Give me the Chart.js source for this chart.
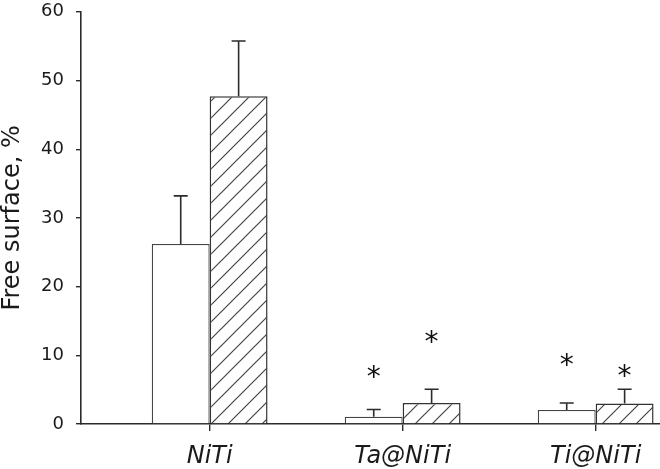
<!DOCTYPE html>
<html>
<head>
<meta charset="utf-8">
<script src="https://cdn.jsdelivr.net/npm/chart.js@4.4.1/dist/chart.umd.min.js"></script>
<style>
  html, body { margin: 0; padding: 0; background: #fff; overflow: hidden; }
  #wrap { width: 660px; height: 469px; overflow: hidden; position: relative; }
  #grafico { position: absolute; left: 0; top: -11px; }
</style>
</head>
<body>
<div id="wrap"><canvas id="grafico" width="660" height="480"></canvas></div>
<script>
// dados
const categorias = ["NiTi", "Ta@NiTi", "Ti@NiTi"];
const posicoes = [1, 2, 3];
const valoresBranco = [26.2, 1.05, 2.05];
const errosBranco = [7.0, 1.05, 1.0];
const valoresHachurado = [47.7, 3.05, 3.0];
const errosHachurado = [8.05, 2.0, 2.05];
// altura (em %) dos asteriscos de significancia, null = sem marca
const asteriscoBranco = [null, 7.6, 9.3];
const asteriscoHachurado = [null, 12.6, 7.7];
const ticksY = [0, 10, 20, 30, 40, 50, 60];

const corLinha = "#2b2b2b";
const fonte = "'DejaVu Sans', Verdana, sans-serif";

function criarHachura() {
    const p = 17;
    const c = document.createElement("canvas");
    c.width = p;
    c.height = p;
    const g = c.getContext("2d");
    g.fillStyle = "#fff";
    g.fillRect(0, 0, p, p);
    g.strokeStyle = "#444";
    g.lineWidth = 1.2;
    g.beginPath();
    g.moveTo(-1, p + 1);
    g.lineTo(p + 1, -1);
    g.moveTo(-2, 2);
    g.lineTo(2, -2);
    g.moveTo(p - 2, p + 2);
    g.lineTo(p + 2, p - 2);
    g.stroke();
    return g.createPattern(c, "repeat");
}

const ctx = document.getElementById("grafico").getContext("2d");

const errosPlugin = {
    id: "errosEAsteriscos",
    afterDatasetsDraw(chart) {
        const g = chart.ctx;
        const y = chart.scales.y;
        const series = [
            { v: valoresBranco, e: errosBranco, a: asteriscoBranco },
            { v: valoresHachurado, e: errosHachurado, a: asteriscoHachurado }
        ];
        g.save();
        g.strokeStyle = corLinha;
        g.lineWidth = 1.6;
        series.forEach((s, i) => {
            const meta = chart.getDatasetMeta(i);
            meta.data.forEach((bar, j) => {
                const topo = y.getPixelForValue(s.v[j] + s.e[j]);
                g.beginPath();
                g.moveTo(bar.x, bar.y);
                g.lineTo(bar.x, topo);
                g.moveTo(bar.x - 7, topo);
                g.lineTo(bar.x + 7, topo);
                g.stroke();

                if (s.a[j] !== null) {
                    g.fillStyle = "#111";
                    g.font = "28px " + fonte;
                    g.textAlign = "center";
                    g.textBaseline = "alphabetic";
                    const m = g.measureText("*");
                    const meio = (m.actualBoundingBoxAscent - m.actualBoundingBoxDescent) / 2;
                    g.fillText("*", bar.x, y.getPixelForValue(s.a[j]) + meio);
                }
            });
        });
        g.restore();
    }
};

new Chart(ctx, {
    type: "bar",
    data: {
        datasets: [
            {
                label: "branco",
                data: posicoes.map((x, i) => ({ x: x, y: valoresBranco[i] })),
                backgroundColor: "#ffffff",
                borderColor: "#444",
                borderWidth: 1.3,
                categoryPercentage: 0.6,
                barPercentage: 1.0
            },
            {
                label: "hachurado",
                data: posicoes.map((x, i) => ({ x: x, y: valoresHachurado[i] })),
                backgroundColor: criarHachura(),
                borderColor: "#333",
                borderWidth: 1.5,
                categoryPercentage: 0.6,
                barPercentage: 1.0
            }
        ]
    },
    options: {
        responsive: false,
        animation: false,
        layout: { padding: 0 },
        plugins: {
            legend: { display: false },
            tooltip: { enabled: false }
        },
        scales: {
            x: {
                type: "linear",
                offset: false,
                min: 1 / 3,
                max: 10 / 3,
                afterBuildTicks: scale => {
                    scale.ticks = posicoes.map(v => ({ value: v }));
                },
                afterFit: scale => { scale.height = 45; },
                border: { display: true, color: corLinha, width: 1.6 },
                grid: {
                    offset: false,
                    drawOnChartArea: false,
                    drawTicks: true,
                    tickLength: 7,
                    color: corLinha,
                    lineWidth: 1.4
                },
                ticks: {
                    padding: 11,
                    color: "#1a1a1a",
                    font: { family: fonte, size: 24, style: "italic" },
                    callback: v => categorias[posicoes.indexOf(v)] ?? ""
                }
            },
            y: {
                min: 0,
                max: 60,
                afterBuildTicks: scale => {
                    scale.ticks = ticksY.map(v => ({ value: v }));
                },
                afterFit: scale => { scale.width = 81; },
                border: { display: true, color: corLinha, width: 1.6 },
                grid: {
                    drawOnChartArea: false,
                    drawTicks: true,
                    tickLength: 5,
                    color: corLinha,
                    lineWidth: 1.4
                },
                ticks: {
                    padding: 12,
                    color: "#1a1a1a",
                    font: { family: fonte, size: 18 }
                },
                title: {
                    display: true,
                    text: "Free surface, %",
                    color: "#1a1a1a",
                    font: { family: fonte, size: 24, lineHeight: 1.1 },
                    padding: 0
                }
            }
        }
    },
    plugins: [errosPlugin]
});
</script>
</body>
</html>
